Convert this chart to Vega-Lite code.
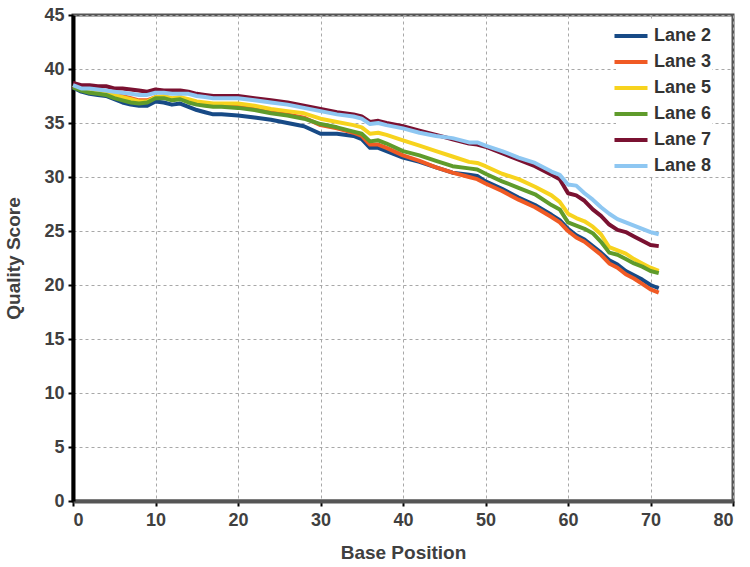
{
  "$schema": "https://vega.github.io/schema/vega-lite/v6.json",
  "width": 660,
  "height": 486,
  "autosize": {"type": "none"},
  "padding": {"left": 73, "top": 15, "right": 17, "bottom": 66},
  "background": "white",
  "config": {
    "font": "Liberation Sans",
    "view": {"stroke": "#555555", "strokeWidth": 3},
    "axis": {
      "labelFont": "Liberation Sans",
      "labelFontSize": 18,
      "labelFontWeight": "bold",
      "labelColor": "#404040",
      "titleFont": "Liberation Sans",
      "titleFontSize": 19,
      "titleFontWeight": "bold",
      "titleColor": "#404040",
      "gridColor": "#a8a8a8",
      "gridDash": [3, 3],
      "gridWidth": 1,
      "tickColor": "#000000",
      "tickWidth": 2,
      "tickSize": 5
    }
  },
  "data": {
    "values": [
      {"pos": 0, "lane": "Lane 2", "q": 38.3}, {"pos": 1, "lane": "Lane 2", "q": 37.9}, {"pos": 2, "lane": "Lane 2", "q": 37.7}, {"pos": 3, "lane": "Lane 2", "q": 37.6}, {"pos": 4, "lane": "Lane 2", "q": 37.5}, {"pos": 5, "lane": "Lane 2", "q": 37.2}, {"pos": 6, "lane": "Lane 2", "q": 36.9}, {"pos": 7, "lane": "Lane 2", "q": 36.7}, {"pos": 8, "lane": "Lane 2", "q": 36.6}, {"pos": 9, "lane": "Lane 2", "q": 36.6}, {"pos": 10, "lane": "Lane 2", "q": 37.0}, {"pos": 11, "lane": "Lane 2", "q": 36.9}, {"pos": 12, "lane": "Lane 2", "q": 36.7}, {"pos": 13, "lane": "Lane 2", "q": 36.8}, {"pos": 14, "lane": "Lane 2", "q": 36.5}, {"pos": 15, "lane": "Lane 2", "q": 36.2}, {"pos": 16, "lane": "Lane 2", "q": 36.0}, {"pos": 17, "lane": "Lane 2", "q": 35.8}, {"pos": 18, "lane": "Lane 2", "q": 35.8}, {"pos": 20, "lane": "Lane 2", "q": 35.7}, {"pos": 22, "lane": "Lane 2", "q": 35.5}, {"pos": 24, "lane": "Lane 2", "q": 35.3}, {"pos": 26, "lane": "Lane 2", "q": 35.0}, {"pos": 28, "lane": "Lane 2", "q": 34.7}, {"pos": 30, "lane": "Lane 2", "q": 34.0}, {"pos": 32, "lane": "Lane 2", "q": 34.0}, {"pos": 34, "lane": "Lane 2", "q": 33.8}, {"pos": 35, "lane": "Lane 2", "q": 33.5}, {"pos": 36, "lane": "Lane 2", "q": 32.7}, {"pos": 37, "lane": "Lane 2", "q": 32.7}, {"pos": 38, "lane": "Lane 2", "q": 32.4}, {"pos": 40, "lane": "Lane 2", "q": 31.8}, {"pos": 42, "lane": "Lane 2", "q": 31.4}, {"pos": 44, "lane": "Lane 2", "q": 30.9}, {"pos": 46, "lane": "Lane 2", "q": 30.4}, {"pos": 48, "lane": "Lane 2", "q": 30.2}, {"pos": 49, "lane": "Lane 2", "q": 30.1}, {"pos": 50, "lane": "Lane 2", "q": 29.6}, {"pos": 52, "lane": "Lane 2", "q": 28.9}, {"pos": 54, "lane": "Lane 2", "q": 28.1}, {"pos": 56, "lane": "Lane 2", "q": 27.4}, {"pos": 58, "lane": "Lane 2", "q": 26.5}, {"pos": 59, "lane": "Lane 2", "q": 26.0}, {"pos": 60, "lane": "Lane 2", "q": 25.2}, {"pos": 61, "lane": "Lane 2", "q": 24.6}, {"pos": 62, "lane": "Lane 2", "q": 24.2}, {"pos": 63, "lane": "Lane 2", "q": 23.6}, {"pos": 64, "lane": "Lane 2", "q": 23.0}, {"pos": 65, "lane": "Lane 2", "q": 22.3}, {"pos": 66, "lane": "Lane 2", "q": 21.9}, {"pos": 67, "lane": "Lane 2", "q": 21.3}, {"pos": 68, "lane": "Lane 2", "q": 20.9}, {"pos": 69, "lane": "Lane 2", "q": 20.5}, {"pos": 70, "lane": "Lane 2", "q": 20.0}, {"pos": 71, "lane": "Lane 2", "q": 19.7},

      {"pos": 0, "lane": "Lane 3", "q": 38.4}, {"pos": 1, "lane": "Lane 3", "q": 38.1}, {"pos": 2, "lane": "Lane 3", "q": 37.9}, {"pos": 3, "lane": "Lane 3", "q": 37.8}, {"pos": 4, "lane": "Lane 3", "q": 37.7}, {"pos": 5, "lane": "Lane 3", "q": 37.5}, {"pos": 6, "lane": "Lane 3", "q": 37.5}, {"pos": 7, "lane": "Lane 3", "q": 37.3}, {"pos": 8, "lane": "Lane 3", "q": 37.1}, {"pos": 9, "lane": "Lane 3", "q": 37.1}, {"pos": 10, "lane": "Lane 3", "q": 37.4}, {"pos": 11, "lane": "Lane 3", "q": 37.4}, {"pos": 12, "lane": "Lane 3", "q": 37.2}, {"pos": 13, "lane": "Lane 3", "q": 37.4}, {"pos": 14, "lane": "Lane 3", "q": 37.0}, {"pos": 15, "lane": "Lane 3", "q": 36.8}, {"pos": 16, "lane": "Lane 3", "q": 36.7}, {"pos": 17, "lane": "Lane 3", "q": 36.6}, {"pos": 18, "lane": "Lane 3", "q": 36.6}, {"pos": 20, "lane": "Lane 3", "q": 36.6}, {"pos": 22, "lane": "Lane 3", "q": 36.3}, {"pos": 24, "lane": "Lane 3", "q": 36.0}, {"pos": 26, "lane": "Lane 3", "q": 35.8}, {"pos": 28, "lane": "Lane 3", "q": 35.5}, {"pos": 30, "lane": "Lane 3", "q": 34.8}, {"pos": 32, "lane": "Lane 3", "q": 34.5}, {"pos": 34, "lane": "Lane 3", "q": 34.1}, {"pos": 35, "lane": "Lane 3", "q": 33.8}, {"pos": 36, "lane": "Lane 3", "q": 33.0}, {"pos": 37, "lane": "Lane 3", "q": 33.0}, {"pos": 38, "lane": "Lane 3", "q": 32.7}, {"pos": 40, "lane": "Lane 3", "q": 32.0}, {"pos": 42, "lane": "Lane 3", "q": 31.5}, {"pos": 44, "lane": "Lane 3", "q": 30.9}, {"pos": 46, "lane": "Lane 3", "q": 30.4}, {"pos": 48, "lane": "Lane 3", "q": 30.0}, {"pos": 49, "lane": "Lane 3", "q": 29.8}, {"pos": 50, "lane": "Lane 3", "q": 29.4}, {"pos": 52, "lane": "Lane 3", "q": 28.7}, {"pos": 54, "lane": "Lane 3", "q": 27.9}, {"pos": 56, "lane": "Lane 3", "q": 27.2}, {"pos": 58, "lane": "Lane 3", "q": 26.3}, {"pos": 59, "lane": "Lane 3", "q": 25.8}, {"pos": 60, "lane": "Lane 3", "q": 25.0}, {"pos": 61, "lane": "Lane 3", "q": 24.4}, {"pos": 62, "lane": "Lane 3", "q": 24.0}, {"pos": 63, "lane": "Lane 3", "q": 23.4}, {"pos": 64, "lane": "Lane 3", "q": 22.8}, {"pos": 65, "lane": "Lane 3", "q": 22.0}, {"pos": 66, "lane": "Lane 3", "q": 21.6}, {"pos": 67, "lane": "Lane 3", "q": 21.0}, {"pos": 68, "lane": "Lane 3", "q": 20.6}, {"pos": 69, "lane": "Lane 3", "q": 20.1}, {"pos": 70, "lane": "Lane 3", "q": 19.6}, {"pos": 71, "lane": "Lane 3", "q": 19.3},

      {"pos": 0, "lane": "Lane 5", "q": 38.5}, {"pos": 1, "lane": "Lane 5", "q": 38.2}, {"pos": 2, "lane": "Lane 5", "q": 38.0}, {"pos": 3, "lane": "Lane 5", "q": 37.9}, {"pos": 4, "lane": "Lane 5", "q": 37.8}, {"pos": 5, "lane": "Lane 5", "q": 37.6}, {"pos": 6, "lane": "Lane 5", "q": 37.4}, {"pos": 7, "lane": "Lane 5", "q": 37.2}, {"pos": 8, "lane": "Lane 5", "q": 37.0}, {"pos": 9, "lane": "Lane 5", "q": 37.0}, {"pos": 10, "lane": "Lane 5", "q": 37.4}, {"pos": 11, "lane": "Lane 5", "q": 37.5}, {"pos": 12, "lane": "Lane 5", "q": 37.3}, {"pos": 13, "lane": "Lane 5", "q": 37.4}, {"pos": 14, "lane": "Lane 5", "q": 37.2}, {"pos": 15, "lane": "Lane 5", "q": 37.0}, {"pos": 16, "lane": "Lane 5", "q": 36.9}, {"pos": 17, "lane": "Lane 5", "q": 36.8}, {"pos": 18, "lane": "Lane 5", "q": 36.8}, {"pos": 20, "lane": "Lane 5", "q": 36.8}, {"pos": 22, "lane": "Lane 5", "q": 36.6}, {"pos": 24, "lane": "Lane 5", "q": 36.3}, {"pos": 26, "lane": "Lane 5", "q": 36.1}, {"pos": 28, "lane": "Lane 5", "q": 35.9}, {"pos": 30, "lane": "Lane 5", "q": 35.4}, {"pos": 32, "lane": "Lane 5", "q": 35.1}, {"pos": 34, "lane": "Lane 5", "q": 34.8}, {"pos": 35, "lane": "Lane 5", "q": 34.6}, {"pos": 36, "lane": "Lane 5", "q": 34.0}, {"pos": 37, "lane": "Lane 5", "q": 34.1}, {"pos": 38, "lane": "Lane 5", "q": 33.9}, {"pos": 40, "lane": "Lane 5", "q": 33.4}, {"pos": 42, "lane": "Lane 5", "q": 32.9}, {"pos": 44, "lane": "Lane 5", "q": 32.4}, {"pos": 46, "lane": "Lane 5", "q": 31.9}, {"pos": 48, "lane": "Lane 5", "q": 31.4}, {"pos": 49, "lane": "Lane 5", "q": 31.3}, {"pos": 50, "lane": "Lane 5", "q": 31.0}, {"pos": 52, "lane": "Lane 5", "q": 30.3}, {"pos": 54, "lane": "Lane 5", "q": 29.8}, {"pos": 56, "lane": "Lane 5", "q": 29.1}, {"pos": 58, "lane": "Lane 5", "q": 28.3}, {"pos": 59, "lane": "Lane 5", "q": 27.7}, {"pos": 60, "lane": "Lane 5", "q": 26.6}, {"pos": 61, "lane": "Lane 5", "q": 26.2}, {"pos": 62, "lane": "Lane 5", "q": 25.9}, {"pos": 63, "lane": "Lane 5", "q": 25.4}, {"pos": 64, "lane": "Lane 5", "q": 24.7}, {"pos": 65, "lane": "Lane 5", "q": 23.5}, {"pos": 66, "lane": "Lane 5", "q": 23.2}, {"pos": 67, "lane": "Lane 5", "q": 22.9}, {"pos": 68, "lane": "Lane 5", "q": 22.4}, {"pos": 69, "lane": "Lane 5", "q": 22.0}, {"pos": 70, "lane": "Lane 5", "q": 21.6}, {"pos": 71, "lane": "Lane 5", "q": 21.3},

      {"pos": 0, "lane": "Lane 6", "q": 38.3}, {"pos": 1, "lane": "Lane 6", "q": 38.0}, {"pos": 2, "lane": "Lane 6", "q": 37.8}, {"pos": 3, "lane": "Lane 6", "q": 37.7}, {"pos": 4, "lane": "Lane 6", "q": 37.6}, {"pos": 5, "lane": "Lane 6", "q": 37.3}, {"pos": 6, "lane": "Lane 6", "q": 37.1}, {"pos": 7, "lane": "Lane 6", "q": 36.9}, {"pos": 8, "lane": "Lane 6", "q": 36.8}, {"pos": 9, "lane": "Lane 6", "q": 36.9}, {"pos": 10, "lane": "Lane 6", "q": 37.3}, {"pos": 11, "lane": "Lane 6", "q": 37.3}, {"pos": 12, "lane": "Lane 6", "q": 37.1}, {"pos": 13, "lane": "Lane 6", "q": 37.2}, {"pos": 14, "lane": "Lane 6", "q": 36.9}, {"pos": 15, "lane": "Lane 6", "q": 36.7}, {"pos": 16, "lane": "Lane 6", "q": 36.6}, {"pos": 17, "lane": "Lane 6", "q": 36.5}, {"pos": 18, "lane": "Lane 6", "q": 36.5}, {"pos": 20, "lane": "Lane 6", "q": 36.4}, {"pos": 22, "lane": "Lane 6", "q": 36.2}, {"pos": 24, "lane": "Lane 6", "q": 35.9}, {"pos": 26, "lane": "Lane 6", "q": 35.7}, {"pos": 28, "lane": "Lane 6", "q": 35.4}, {"pos": 30, "lane": "Lane 6", "q": 34.9}, {"pos": 32, "lane": "Lane 6", "q": 34.6}, {"pos": 34, "lane": "Lane 6", "q": 34.2}, {"pos": 35, "lane": "Lane 6", "q": 34.0}, {"pos": 36, "lane": "Lane 6", "q": 33.3}, {"pos": 37, "lane": "Lane 6", "q": 33.4}, {"pos": 38, "lane": "Lane 6", "q": 33.1}, {"pos": 40, "lane": "Lane 6", "q": 32.4}, {"pos": 42, "lane": "Lane 6", "q": 32.0}, {"pos": 44, "lane": "Lane 6", "q": 31.5}, {"pos": 46, "lane": "Lane 6", "q": 31.0}, {"pos": 48, "lane": "Lane 6", "q": 30.8}, {"pos": 49, "lane": "Lane 6", "q": 30.7}, {"pos": 50, "lane": "Lane 6", "q": 30.3}, {"pos": 52, "lane": "Lane 6", "q": 29.6}, {"pos": 54, "lane": "Lane 6", "q": 29.0}, {"pos": 56, "lane": "Lane 6", "q": 28.4}, {"pos": 58, "lane": "Lane 6", "q": 27.4}, {"pos": 59, "lane": "Lane 6", "q": 27.0}, {"pos": 60, "lane": "Lane 6", "q": 25.8}, {"pos": 61, "lane": "Lane 6", "q": 25.5}, {"pos": 62, "lane": "Lane 6", "q": 25.2}, {"pos": 63, "lane": "Lane 6", "q": 24.8}, {"pos": 64, "lane": "Lane 6", "q": 24.0}, {"pos": 65, "lane": "Lane 6", "q": 23.0}, {"pos": 66, "lane": "Lane 6", "q": 22.8}, {"pos": 67, "lane": "Lane 6", "q": 22.4}, {"pos": 68, "lane": "Lane 6", "q": 22.0}, {"pos": 69, "lane": "Lane 6", "q": 21.7}, {"pos": 70, "lane": "Lane 6", "q": 21.3}, {"pos": 71, "lane": "Lane 6", "q": 21.1},

      {"pos": 0, "lane": "Lane 7", "q": 38.7}, {"pos": 1, "lane": "Lane 7", "q": 38.5}, {"pos": 2, "lane": "Lane 7", "q": 38.5}, {"pos": 3, "lane": "Lane 7", "q": 38.4}, {"pos": 4, "lane": "Lane 7", "q": 38.4}, {"pos": 5, "lane": "Lane 7", "q": 38.2}, {"pos": 6, "lane": "Lane 7", "q": 38.2}, {"pos": 7, "lane": "Lane 7", "q": 38.1}, {"pos": 8, "lane": "Lane 7", "q": 38.0}, {"pos": 9, "lane": "Lane 7", "q": 37.9}, {"pos": 10, "lane": "Lane 7", "q": 38.1}, {"pos": 11, "lane": "Lane 7", "q": 38.0}, {"pos": 12, "lane": "Lane 7", "q": 38.0}, {"pos": 13, "lane": "Lane 7", "q": 38.0}, {"pos": 14, "lane": "Lane 7", "q": 37.9}, {"pos": 15, "lane": "Lane 7", "q": 37.7}, {"pos": 16, "lane": "Lane 7", "q": 37.6}, {"pos": 17, "lane": "Lane 7", "q": 37.5}, {"pos": 18, "lane": "Lane 7", "q": 37.5}, {"pos": 20, "lane": "Lane 7", "q": 37.5}, {"pos": 22, "lane": "Lane 7", "q": 37.3}, {"pos": 24, "lane": "Lane 7", "q": 37.1}, {"pos": 26, "lane": "Lane 7", "q": 36.9}, {"pos": 28, "lane": "Lane 7", "q": 36.6}, {"pos": 30, "lane": "Lane 7", "q": 36.3}, {"pos": 32, "lane": "Lane 7", "q": 36.0}, {"pos": 34, "lane": "Lane 7", "q": 35.8}, {"pos": 35, "lane": "Lane 7", "q": 35.6}, {"pos": 36, "lane": "Lane 7", "q": 35.1}, {"pos": 37, "lane": "Lane 7", "q": 35.2}, {"pos": 38, "lane": "Lane 7", "q": 35.0}, {"pos": 40, "lane": "Lane 7", "q": 34.7}, {"pos": 42, "lane": "Lane 7", "q": 34.3}, {"pos": 44, "lane": "Lane 7", "q": 33.9}, {"pos": 46, "lane": "Lane 7", "q": 33.5}, {"pos": 48, "lane": "Lane 7", "q": 33.1}, {"pos": 49, "lane": "Lane 7", "q": 33.0}, {"pos": 50, "lane": "Lane 7", "q": 32.8}, {"pos": 52, "lane": "Lane 7", "q": 32.2}, {"pos": 54, "lane": "Lane 7", "q": 31.6}, {"pos": 56, "lane": "Lane 7", "q": 31.0}, {"pos": 58, "lane": "Lane 7", "q": 30.2}, {"pos": 59, "lane": "Lane 7", "q": 29.8}, {"pos": 60, "lane": "Lane 7", "q": 28.5}, {"pos": 61, "lane": "Lane 7", "q": 28.3}, {"pos": 62, "lane": "Lane 7", "q": 27.8}, {"pos": 63, "lane": "Lane 7", "q": 27.0}, {"pos": 64, "lane": "Lane 7", "q": 26.4}, {"pos": 65, "lane": "Lane 7", "q": 25.6}, {"pos": 66, "lane": "Lane 7", "q": 25.1}, {"pos": 67, "lane": "Lane 7", "q": 24.9}, {"pos": 68, "lane": "Lane 7", "q": 24.5}, {"pos": 69, "lane": "Lane 7", "q": 24.1}, {"pos": 70, "lane": "Lane 7", "q": 23.7}, {"pos": 71, "lane": "Lane 7", "q": 23.6},

      {"pos": 0, "lane": "Lane 8", "q": 38.5}, {"pos": 1, "lane": "Lane 8", "q": 38.2}, {"pos": 2, "lane": "Lane 8", "q": 38.2}, {"pos": 3, "lane": "Lane 8", "q": 38.1}, {"pos": 4, "lane": "Lane 8", "q": 38.0}, {"pos": 5, "lane": "Lane 8", "q": 37.9}, {"pos": 6, "lane": "Lane 8", "q": 37.8}, {"pos": 7, "lane": "Lane 8", "q": 37.7}, {"pos": 8, "lane": "Lane 8", "q": 37.6}, {"pos": 9, "lane": "Lane 8", "q": 37.6}, {"pos": 10, "lane": "Lane 8", "q": 37.8}, {"pos": 11, "lane": "Lane 8", "q": 37.8}, {"pos": 12, "lane": "Lane 8", "q": 37.7}, {"pos": 13, "lane": "Lane 8", "q": 37.7}, {"pos": 14, "lane": "Lane 8", "q": 37.7}, {"pos": 15, "lane": "Lane 8", "q": 37.5}, {"pos": 16, "lane": "Lane 8", "q": 37.4}, {"pos": 17, "lane": "Lane 8", "q": 37.3}, {"pos": 18, "lane": "Lane 8", "q": 37.3}, {"pos": 20, "lane": "Lane 8", "q": 37.3}, {"pos": 22, "lane": "Lane 8", "q": 37.1}, {"pos": 24, "lane": "Lane 8", "q": 36.9}, {"pos": 26, "lane": "Lane 8", "q": 36.7}, {"pos": 28, "lane": "Lane 8", "q": 36.4}, {"pos": 30, "lane": "Lane 8", "q": 36.1}, {"pos": 32, "lane": "Lane 8", "q": 35.8}, {"pos": 34, "lane": "Lane 8", "q": 35.6}, {"pos": 35, "lane": "Lane 8", "q": 35.4}, {"pos": 36, "lane": "Lane 8", "q": 34.9}, {"pos": 37, "lane": "Lane 8", "q": 35.0}, {"pos": 38, "lane": "Lane 8", "q": 34.8}, {"pos": 40, "lane": "Lane 8", "q": 34.5}, {"pos": 42, "lane": "Lane 8", "q": 34.1}, {"pos": 44, "lane": "Lane 8", "q": 33.8}, {"pos": 46, "lane": "Lane 8", "q": 33.6}, {"pos": 48, "lane": "Lane 8", "q": 33.2}, {"pos": 49, "lane": "Lane 8", "q": 33.2}, {"pos": 50, "lane": "Lane 8", "q": 32.9}, {"pos": 52, "lane": "Lane 8", "q": 32.4}, {"pos": 54, "lane": "Lane 8", "q": 31.8}, {"pos": 56, "lane": "Lane 8", "q": 31.3}, {"pos": 58, "lane": "Lane 8", "q": 30.5}, {"pos": 59, "lane": "Lane 8", "q": 30.2}, {"pos": 60, "lane": "Lane 8", "q": 29.3}, {"pos": 61, "lane": "Lane 8", "q": 29.2}, {"pos": 62, "lane": "Lane 8", "q": 28.5}, {"pos": 63, "lane": "Lane 8", "q": 27.9}, {"pos": 64, "lane": "Lane 8", "q": 27.2}, {"pos": 65, "lane": "Lane 8", "q": 26.6}, {"pos": 66, "lane": "Lane 8", "q": 26.1}, {"pos": 67, "lane": "Lane 8", "q": 25.8}, {"pos": 68, "lane": "Lane 8", "q": 25.5}, {"pos": 69, "lane": "Lane 8", "q": 25.2}, {"pos": 70, "lane": "Lane 8", "q": 24.9}, {"pos": 71, "lane": "Lane 8", "q": 24.7}
    ]
  },
  "mark": {"type": "line", "strokeWidth": 4, "interpolate": "linear", "strokeJoin": "round"},
  "encoding": {
    "x": {
      "field": "pos",
      "type": "quantitative",
      "title": "Base Position",
      "scale": {"domain": [0, 80], "nice": false},
      "axis": {
        "values": [0, 10, 20, 30, 40, 50, 60, 70, 80],
        "domainColor": "#555555",
        "domainWidth": 4,
        "titlePadding": 14,
        "labelPadding": 5
      }
    },
    "y": {
      "field": "q",
      "type": "quantitative",
      "title": "Quality Score",
      "scale": {"domain": [0, 45], "nice": false},
      "axis": {
        "values": [0, 5, 10, 15, 20, 25, 30, 35, 40, 45],
        "domainColor": "#000000",
        "domainWidth": 4,
        "titlePadding": 20,
        "labelPadding": 4
      }
    },
    "color": {
      "field": "lane",
      "type": "nominal",
      "title": null,
      "scale": {
        "domain": ["Lane 2", "Lane 3", "Lane 5", "Lane 6", "Lane 7", "Lane 8"],
        "range": ["#174a86", "#f05a24", "#f7d31e", "#5f9b2b", "#7a1131", "#8ec7f2"]
      },
      "legend": {
        "orient": "none",
        "legendX": 543,
        "legendY": 6,
        "symbolType": "M-1.27,0H1.27",
        "symbolStrokeWidth": 4,
        "symbolSize": 676,
        "labelFontSize": 18,
        "labelFontWeight": "bold",
        "labelColor": "#333333",
        "labelFont": "Liberation Sans",
        "labelOffset": 8,
        "rowPadding": 2,
        "fillColor": "white"
      }
    }
  }
}
